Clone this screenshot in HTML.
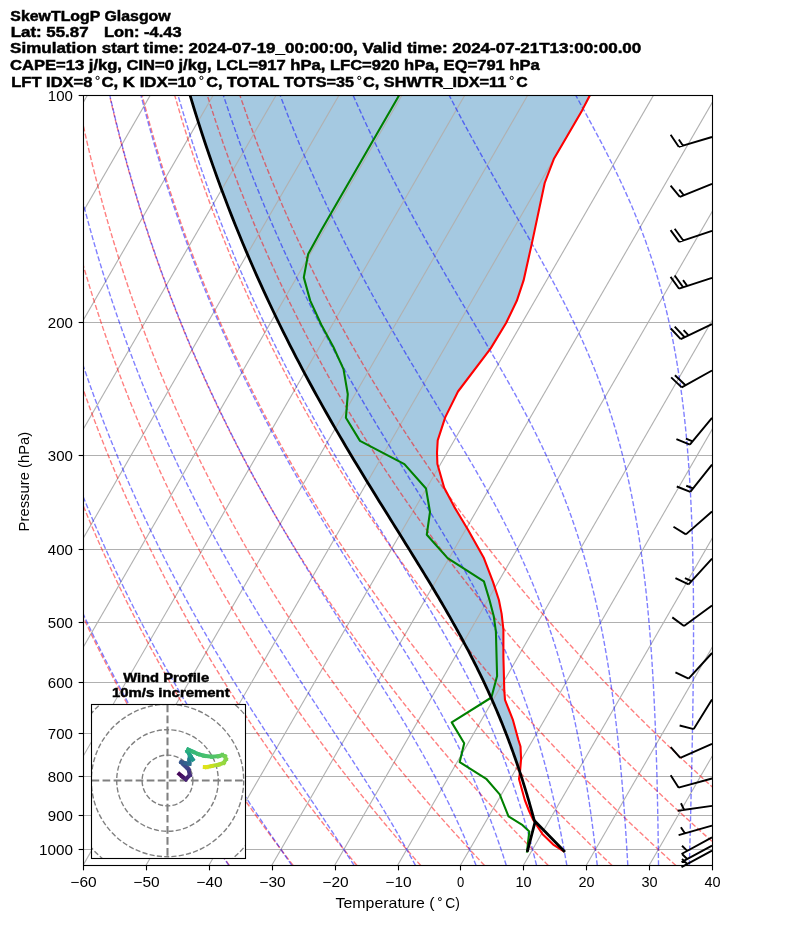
<!DOCTYPE html><html><head><meta charset="utf-8"><style>html,body{margin:0;padding:0;background:#fff;width:794px;height:937px;overflow:hidden}</style></head><body><svg width="794" height="937" viewBox="0 0 794 937" style="display:block;will-change:transform">
<defs><clipPath id="ax"><rect x="83.0" y="95.15" width="629.00" height="770.30"/></clipPath></defs>
<rect width="794" height="937" fill="#fff"/>
<g clip-path="url(#ax)">
<path d="M519.57,775.00 L520.00,772.00 L521.10,759.00 L520.50,746.50 L518.40,740.00 L513.00,720.20 L505.00,699.80 L504.30,690.70 L503.40,656.70 L503.40,629.50 L501.60,613.60 L498.90,600.00 L493.00,581.90 L483.90,558.10 L468.00,529.70 L454.40,507.10 L444.20,487.80 L437.40,464.00 L437.00,452.70 L437.70,440.40 L445.20,417.40 L458.00,391.50 L490.70,348.40 L506.10,323.00 L516.80,300.80 L523.60,280.40 L532.20,241.90 L544.70,183.00 L553.80,159.10 L582.10,110.40 L590.00,95.00 L596.00,84.00 L180.20,60.63 L190.02,95.15 L193.98,108.25 L197.92,120.85 L201.82,132.98 L205.70,144.68 L209.55,155.97 L213.36,166.89 L217.15,177.46 L220.90,187.69 L224.62,197.62 L228.31,207.25 L231.97,216.61 L235.60,225.71 L239.20,234.56 L242.77,243.18 L246.31,251.58 L249.82,259.77 L253.30,267.76 L256.75,275.56 L260.18,283.18 L263.57,290.62 L266.94,297.90 L270.28,305.02 L273.59,311.99 L276.88,318.81 L280.13,325.50 L283.37,332.05 L286.57,338.47 L289.76,344.77 L292.91,350.95 L296.04,357.02 L299.15,362.97 L302.23,368.82 L305.29,374.57 L308.32,380.22 L311.33,385.77 L314.31,391.23 L317.27,396.60 L320.21,401.88 L323.12,407.08 L326.01,412.20 L328.87,417.24 L331.71,422.20 L334.53,427.09 L337.33,431.91 L340.10,436.65 L342.85,441.33 L345.57,445.95 L348.27,450.50 L350.95,454.98 L353.61,459.41 L356.24,463.78 L358.84,468.09 L361.43,472.34 L363.99,476.54 L366.53,480.69 L369.04,484.78 L371.53,488.83 L373.99,492.82 L376.44,496.77 L378.85,500.67 L381.25,504.52 L383.62,508.33 L385.96,512.10 L388.29,515.82 L390.58,519.50 L392.86,523.14 L395.10,526.74 L397.33,530.30 L399.53,533.82 L401.70,537.31 L403.86,540.75 L405.98,544.17 L408.08,547.54 L410.16,550.89 L412.22,554.20 L414.24,557.47 L416.25,560.71 L418.23,563.93 L420.18,567.11 L422.12,570.26 L424.02,573.38 L425.91,576.47 L427.76,579.53 L429.60,582.56 L431.41,585.57 L433.20,588.54 L434.96,591.50 L436.70,594.42 L438.42,597.32 L440.12,600.19 L441.79,603.04 L443.44,605.86 L445.06,608.66 L446.67,611.44 L448.25,614.19 L449.81,616.92 L451.34,619.63 L452.86,622.32 L454.35,624.98 L455.83,627.62 L457.28,630.24 L458.71,632.84 L460.12,635.42 L461.51,637.98 L462.88,640.52 L464.23,643.04 L465.56,645.54 L466.88,648.02 L468.17,650.48 L469.44,652.93 L470.70,655.36 L471.94,657.76 L473.16,660.15 L474.36,662.53 L475.54,664.89 L476.71,667.23 L477.86,669.55 L478.99,671.86 L480.11,674.15 L481.21,676.42 L482.30,678.68 L483.37,680.92 L484.42,683.15 L485.46,685.37 L486.48,687.56 L487.49,689.75 L488.48,691.92 L489.46,694.07 L490.43,696.21 L491.38,698.34 L492.32,700.45 L493.24,702.55 L494.15,704.64 L495.05,706.71 L495.94,708.77 L496.81,710.82 L497.67,712.86 L498.52,714.88 L499.36,716.89 L500.19,718.89 L501.00,720.87 L501.80,722.84 L502.60,724.81 L503.38,726.76 L504.15,728.69 L504.91,730.62 L505.66,732.54 L506.40,734.44 L507.12,736.33 L507.84,738.22 L508.55,740.09 L509.25,741.95 L509.95,743.80 L510.63,745.64 L511.30,747.47 L511.96,749.29 L512.62,751.10 L513.27,752.90 L513.91,754.69 L514.54,756.47 L515.16,758.24 L515.77,760.00 L516.38,761.76 L516.98,763.50 L517.57,765.23 L518.15,766.96 L518.73,768.67 L519.30,770.38 L519.86,772.07 L520.42,773.76 L520.82,775.00 Z" fill="#1f77b4" fill-opacity="0.4" stroke="none"/>
<line x1="83.0" y1="95.50" x2="712.0" y2="95.50" stroke="#b0b0b0" stroke-width="1.11"/>
<line x1="83.0" y1="322.50" x2="712.0" y2="322.50" stroke="#b0b0b0" stroke-width="1.11"/>
<line x1="83.0" y1="455.50" x2="712.0" y2="455.50" stroke="#b0b0b0" stroke-width="1.11"/>
<line x1="83.0" y1="549.50" x2="712.0" y2="549.50" stroke="#b0b0b0" stroke-width="1.11"/>
<line x1="83.0" y1="622.50" x2="712.0" y2="622.50" stroke="#b0b0b0" stroke-width="1.11"/>
<line x1="83.0" y1="682.50" x2="712.0" y2="682.50" stroke="#b0b0b0" stroke-width="1.11"/>
<line x1="83.0" y1="733.50" x2="712.0" y2="733.50" stroke="#b0b0b0" stroke-width="1.11"/>
<line x1="83.0" y1="776.50" x2="712.0" y2="776.50" stroke="#b0b0b0" stroke-width="1.11"/>
<line x1="83.0" y1="815.50" x2="712.0" y2="815.50" stroke="#b0b0b0" stroke-width="1.11"/>
<line x1="83.0" y1="849.50" x2="712.0" y2="849.50" stroke="#b0b0b0" stroke-width="1.11"/>
<line x1="-483.10" y1="865.45" x2="-38.37" y2="95.15" stroke="#b0b0b0" stroke-width="1.11"/>
<line x1="-420.20" y1="865.45" x2="24.53" y2="95.15" stroke="#b0b0b0" stroke-width="1.11"/>
<line x1="-357.30" y1="865.45" x2="87.43" y2="95.15" stroke="#b0b0b0" stroke-width="1.11"/>
<line x1="-294.40" y1="865.45" x2="150.33" y2="95.15" stroke="#b0b0b0" stroke-width="1.11"/>
<line x1="-231.50" y1="865.45" x2="213.23" y2="95.15" stroke="#b0b0b0" stroke-width="1.11"/>
<line x1="-168.60" y1="865.45" x2="276.13" y2="95.15" stroke="#b0b0b0" stroke-width="1.11"/>
<line x1="-105.70" y1="865.45" x2="339.03" y2="95.15" stroke="#b0b0b0" stroke-width="1.11"/>
<line x1="-42.80" y1="865.45" x2="401.93" y2="95.15" stroke="#b0b0b0" stroke-width="1.11"/>
<line x1="20.10" y1="865.45" x2="464.83" y2="95.15" stroke="#b0b0b0" stroke-width="1.11"/>
<line x1="83.00" y1="865.45" x2="527.73" y2="95.15" stroke="#b0b0b0" stroke-width="1.11"/>
<line x1="145.90" y1="865.45" x2="590.63" y2="95.15" stroke="#b0b0b0" stroke-width="1.11"/>
<line x1="208.80" y1="865.45" x2="653.53" y2="95.15" stroke="#b0b0b0" stroke-width="1.11"/>
<line x1="271.70" y1="865.45" x2="716.43" y2="95.15" stroke="#b0b0b0" stroke-width="1.11"/>
<line x1="334.60" y1="865.45" x2="779.33" y2="95.15" stroke="#b0b0b0" stroke-width="1.11"/>
<line x1="397.50" y1="865.45" x2="842.23" y2="95.15" stroke="#b0b0b0" stroke-width="1.11"/>
<line x1="460.40" y1="865.45" x2="905.13" y2="95.15" stroke="#b0b0b0" stroke-width="1.11"/>
<line x1="523.30" y1="865.45" x2="968.03" y2="95.15" stroke="#b0b0b0" stroke-width="1.11"/>
<line x1="586.20" y1="865.45" x2="1030.93" y2="95.15" stroke="#b0b0b0" stroke-width="1.11"/>
<line x1="649.10" y1="865.45" x2="1093.83" y2="95.15" stroke="#b0b0b0" stroke-width="1.11"/>
<line x1="712.00" y1="865.45" x2="1156.73" y2="95.15" stroke="#b0b0b0" stroke-width="1.11"/>
<path d="M229.39,865.45 L227.59,862.95 L225.79,860.43 L223.98,857.89 L222.16,855.33 L220.34,852.75 L218.51,850.15 L216.67,847.53 L214.83,844.89 L212.98,842.23 L211.12,839.55 L209.26,836.84 L207.38,834.11 L205.50,831.36 L203.61,828.58 L201.72,825.78 L199.82,822.96 L197.91,820.11 L195.99,817.24 L194.06,814.34 L192.13,811.41 L190.18,808.46 L188.23,805.49 L186.27,802.48 L184.31,799.45 L182.33,796.39 L180.35,793.30 L178.35,790.18 L176.35,787.03 L174.34,783.85 L172.32,780.64 L170.30,777.40 L168.26,774.12 L166.21,770.81 L164.16,767.47 L162.09,764.09 L160.02,760.68 L157.93,757.24 L155.84,753.75 L153.73,750.23 L151.62,746.67 L149.50,743.07 L147.36,739.43 L145.22,735.75 L143.06,732.03 L140.90,728.27 L138.72,724.46 L136.53,720.61 L134.34,716.71 L132.13,712.76 L129.91,708.77 L127.67,704.72 L125.43,700.63 L123.18,696.49 L120.91,692.29 L118.63,688.03 L116.34,683.72 L114.04,679.36 L111.72,674.93 L109.39,670.45 L107.05,665.90 L104.70,661.29 L102.33,656.61 L99.95,651.86 L97.56,647.05 L95.15,642.16 L92.73,637.20 L90.30,632.16 L87.85,627.04 L85.39,621.84 L82.91,616.56 L80.42,611.19 L77.91,605.74 L75.39,600.19 L72.86,594.54 L70.30,588.80 L67.74,582.95 L65.15,576.99 L62.56,570.93 L59.94,564.75 L57.31,558.46 L54.67,552.04 L52.00,545.49 L49.32,538.80 L46.63,531.98 L43.91,525.02 L41.19,517.90 L38.44,510.62 L35.68,503.18 L32.90,495.57 L30.10,487.77 L27.28,479.79 L24.45,471.60 L21.61,463.21 L18.74,454.59 L15.86,445.74 L12.96,436.65 L10.05,427.30 L7.13,417.67 L4.18,407.75 L1.23,397.52 L-1.74,386.96 L-4.72,376.05 L-7.71,364.76 L-10.71,353.07 L-13.71,340.95 L-16.72,328.36 L-19.73,315.27 L-22.74,301.63 L-25.74,287.40 L-28.73,272.52 L-31.70,256.94 L-34.65,240.58 L-37.56,223.36 L-40.43,205.18 L-43.23,185.93 L-45.96,165.49 L-48.58,143.68 L-51.08,120.31 L-53.40,95.15 M293.17,865.45 L291.23,862.95 L289.29,860.43 L287.34,857.89 L285.39,855.33 L283.42,852.75 L281.45,850.15 L279.47,847.53 L277.48,844.89 L275.48,842.23 L273.48,839.55 L271.47,836.84 L269.45,834.11 L267.42,831.36 L265.38,828.58 L263.33,825.78 L261.28,822.96 L259.22,820.11 L257.14,817.24 L255.06,814.34 L252.97,811.41 L250.87,808.46 L248.77,805.49 L246.65,802.48 L244.52,799.45 L242.39,796.39 L240.24,793.30 L238.08,790.18 L235.92,787.03 L233.74,783.85 L231.56,780.64 L229.36,777.40 L227.16,774.12 L224.94,770.81 L222.71,767.47 L220.48,764.09 L218.23,760.68 L215.97,757.24 L213.70,753.75 L211.42,750.23 L209.13,746.67 L206.82,743.07 L204.51,739.43 L202.18,735.75 L199.84,732.03 L197.49,728.27 L195.12,724.46 L192.75,720.61 L190.36,716.71 L187.96,712.76 L185.54,708.77 L183.11,704.72 L180.67,700.63 L178.22,696.49 L175.75,692.29 L173.27,688.03 L170.77,683.72 L168.26,679.36 L165.74,674.93 L163.20,670.45 L160.65,665.90 L158.08,661.29 L155.49,656.61 L152.90,651.86 L150.28,647.05 L147.65,642.16 L145.00,637.20 L142.34,632.16 L139.66,627.04 L136.96,621.84 L134.25,616.56 L131.52,611.19 L128.77,605.74 L126.00,600.19 L123.22,594.54 L120.41,588.80 L117.59,582.95 L114.75,576.99 L111.89,570.93 L109.01,564.75 L106.11,558.46 L103.19,552.04 L100.25,545.49 L97.29,538.80 L94.31,531.98 L91.31,525.02 L88.29,517.90 L85.25,510.62 L82.18,503.18 L79.09,495.57 L75.98,487.77 L72.85,479.79 L69.69,471.60 L66.52,463.21 L63.32,454.59 L60.09,445.74 L56.85,436.65 L53.58,427.30 L50.29,417.67 L46.97,407.75 L43.64,397.52 L40.28,386.96 L36.90,376.05 L33.51,364.76 L30.09,353.07 L26.66,340.95 L23.21,328.36 L19.74,315.27 L16.27,301.63 L12.79,287.40 L9.30,272.52 L5.81,256.94 L2.34,240.58 L-1.13,223.36 L-4.57,205.18 L-7.97,185.93 L-11.32,165.49 L-14.60,143.68 L-17.78,120.31 L-20.82,95.15 M356.95,865.45 L354.88,862.95 L352.80,860.43 L350.71,857.89 L348.61,855.33 L346.50,852.75 L344.39,850.15 L342.26,847.53 L340.13,844.89 L337.99,842.23 L335.84,839.55 L333.68,836.84 L331.51,834.11 L329.33,831.36 L327.14,828.58 L324.95,825.78 L322.74,822.96 L320.53,820.11 L318.30,817.24 L316.07,814.34 L313.82,811.41 L311.56,808.46 L309.30,805.49 L307.02,802.48 L304.74,799.45 L302.44,796.39 L300.13,793.30 L297.81,790.18 L295.49,787.03 L293.15,783.85 L290.79,780.64 L288.43,777.40 L286.06,774.12 L283.67,770.81 L281.27,767.47 L278.86,764.09 L276.44,760.68 L274.01,757.24 L271.56,753.75 L269.10,750.23 L266.63,746.67 L264.15,743.07 L261.65,739.43 L259.14,735.75 L256.62,732.03 L254.08,728.27 L251.53,724.46 L248.96,720.61 L246.38,716.71 L243.79,712.76 L241.18,708.77 L238.55,704.72 L235.92,700.63 L233.26,696.49 L230.59,692.29 L227.91,688.03 L225.21,683.72 L222.49,679.36 L219.76,674.93 L217.01,670.45 L214.24,665.90 L211.46,661.29 L208.66,656.61 L205.84,651.86 L203.00,647.05 L200.15,642.16 L197.27,637.20 L194.38,632.16 L191.47,627.04 L188.54,621.84 L185.59,616.56 L182.61,611.19 L179.62,605.74 L176.61,600.19 L173.58,594.54 L170.52,588.80 L167.45,582.95 L164.35,576.99 L161.23,570.93 L158.08,564.75 L154.91,558.46 L151.72,552.04 L148.51,545.49 L145.27,538.80 L142.00,531.98 L138.71,525.02 L135.39,517.90 L132.05,510.62 L128.68,503.18 L125.29,495.57 L121.86,487.77 L118.41,479.79 L114.93,471.60 L111.43,463.21 L107.89,454.59 L104.32,445.74 L100.73,436.65 L97.10,427.30 L93.45,417.67 L89.76,407.75 L86.05,397.52 L82.30,386.96 L78.53,376.05 L74.72,364.76 L70.89,353.07 L67.02,340.95 L63.13,328.36 L59.22,315.27 L55.28,301.63 L51.31,287.40 L47.33,272.52 L43.33,256.94 L39.32,240.58 L35.31,223.36 L31.29,205.18 L27.30,185.93 L23.32,165.49 L19.39,143.68 L15.53,120.31 L11.75,95.15 M420.74,865.45 L418.52,862.95 L416.30,860.43 L414.07,857.89 L411.83,855.33 L409.58,852.75 L407.32,850.15 L405.06,847.53 L402.78,844.89 L400.49,842.23 L398.20,839.55 L395.89,836.84 L393.57,834.11 L391.25,831.36 L388.91,828.58 L386.56,825.78 L384.20,822.96 L381.84,820.11 L379.46,817.24 L377.07,814.34 L374.67,811.41 L372.26,808.46 L369.83,805.49 L367.40,802.48 L364.95,799.45 L362.50,796.39 L360.03,793.30 L357.55,790.18 L355.05,787.03 L352.55,783.85 L350.03,780.64 L347.50,777.40 L344.96,774.12 L342.40,770.81 L339.83,767.47 L337.25,764.09 L334.66,760.68 L332.05,757.24 L329.42,753.75 L326.79,750.23 L324.14,746.67 L321.47,743.07 L318.79,739.43 L316.10,735.75 L313.39,732.03 L310.67,728.27 L307.93,724.46 L305.17,720.61 L302.40,716.71 L299.62,712.76 L296.81,708.77 L294.00,704.72 L291.16,700.63 L288.31,696.49 L285.44,692.29 L282.55,688.03 L279.64,683.72 L276.72,679.36 L273.78,674.93 L270.82,670.45 L267.84,665.90 L264.84,661.29 L261.82,656.61 L258.78,651.86 L255.72,647.05 L252.64,642.16 L249.54,637.20 L246.42,632.16 L243.28,627.04 L240.11,621.84 L236.92,616.56 L233.71,611.19 L230.48,605.74 L227.22,600.19 L223.94,594.54 L220.63,588.80 L217.30,582.95 L213.94,576.99 L210.56,570.93 L207.15,564.75 L203.71,558.46 L200.25,552.04 L196.76,545.49 L193.24,538.80 L189.69,531.98 L186.11,525.02 L182.50,517.90 L178.86,510.62 L175.19,503.18 L171.48,495.57 L167.75,487.77 L163.98,479.79 L160.17,471.60 L156.34,463.21 L152.46,454.59 L148.56,445.74 L144.61,436.65 L140.63,427.30 L136.61,417.67 L132.55,407.75 L128.46,397.52 L124.32,386.96 L120.15,376.05 L115.94,364.76 L111.68,353.07 L107.39,340.95 L103.06,328.36 L98.69,315.27 L94.28,301.63 L89.84,287.40 L85.36,272.52 L80.85,256.94 L76.31,240.58 L71.74,223.36 L67.15,205.18 L62.56,185.93 L57.96,165.49 L53.38,143.68 L48.83,120.31 L44.33,95.15 M484.52,865.45 L482.17,862.95 L479.81,860.43 L477.43,857.89 L475.05,855.33 L472.66,852.75 L470.26,850.15 L467.85,847.53 L465.43,844.89 L463.00,842.23 L460.55,839.55 L458.10,836.84 L455.64,834.11 L453.16,831.36 L450.67,828.58 L448.18,825.78 L445.67,822.96 L443.15,820.11 L440.61,817.24 L438.07,814.34 L435.51,811.41 L432.95,808.46 L430.37,805.49 L427.77,802.48 L425.17,799.45 L422.55,796.39 L419.92,793.30 L417.28,790.18 L414.62,787.03 L411.95,783.85 L409.26,780.64 L406.57,777.40 L403.86,774.12 L401.13,770.81 L398.39,767.47 L395.64,764.09 L392.87,760.68 L390.09,757.24 L387.29,753.75 L384.47,750.23 L381.64,746.67 L378.80,743.07 L375.94,739.43 L373.06,735.75 L370.17,732.03 L367.26,728.27 L364.33,724.46 L361.39,720.61 L358.43,716.71 L355.45,712.76 L352.45,708.77 L349.44,704.72 L346.40,700.63 L343.35,696.49 L340.28,692.29 L337.19,688.03 L334.08,683.72 L330.95,679.36 L327.80,674.93 L324.62,670.45 L321.43,665.90 L318.22,661.29 L314.98,656.61 L311.72,651.86 L308.44,647.05 L305.14,642.16 L301.81,637.20 L298.46,632.16 L295.08,627.04 L291.68,621.84 L288.26,616.56 L284.81,611.19 L281.33,605.74 L277.83,600.19 L274.30,594.54 L270.74,588.80 L267.15,582.95 L263.54,576.99 L259.89,570.93 L256.22,564.75 L252.51,558.46 L248.78,552.04 L245.01,545.49 L241.21,538.80 L237.37,531.98 L233.51,525.02 L229.60,517.90 L225.66,510.62 L221.69,503.18 L217.68,495.57 L213.63,487.77 L209.54,479.79 L205.41,471.60 L201.25,463.21 L197.04,454.59 L192.79,445.74 L188.49,436.65 L184.15,427.30 L179.77,417.67 L175.34,407.75 L170.87,397.52 L166.34,386.96 L161.77,376.05 L157.15,364.76 L152.48,353.07 L147.76,340.95 L142.99,328.36 L138.17,315.27 L133.29,301.63 L128.37,287.40 L123.39,272.52 L118.36,256.94 L113.29,240.58 L108.17,223.36 L103.01,205.18 L97.82,185.93 L92.60,165.49 L87.37,143.68 L82.13,120.31 L76.91,95.15 M548.30,865.45 L545.81,862.95 L543.31,860.43 L540.80,857.89 L538.28,855.33 L535.74,852.75 L533.20,850.15 L530.64,847.53 L528.08,844.89 L525.50,842.23 L522.91,839.55 L520.31,836.84 L517.70,834.11 L515.07,831.36 L512.44,828.58 L509.79,825.78 L507.13,822.96 L504.46,820.11 L501.77,817.24 L499.07,814.34 L496.36,811.41 L493.64,808.46 L490.90,805.49 L488.15,802.48 L485.38,799.45 L482.60,796.39 L479.81,793.30 L477.01,790.18 L474.18,787.03 L471.35,783.85 L468.50,780.64 L465.64,777.40 L462.76,774.12 L459.86,770.81 L456.95,767.47 L454.02,764.09 L451.08,760.68 L448.12,757.24 L445.15,753.75 L442.16,750.23 L439.15,746.67 L436.13,743.07 L433.08,739.43 L430.02,735.75 L426.95,732.03 L423.85,728.27 L420.73,724.46 L417.60,720.61 L414.45,716.71 L411.28,712.76 L408.09,708.77 L404.88,704.72 L401.64,700.63 L398.39,696.49 L395.12,692.29 L391.83,688.03 L388.51,683.72 L385.17,679.36 L381.81,674.93 L378.43,670.45 L375.03,665.90 L371.60,661.29 L368.14,656.61 L364.66,651.86 L361.16,647.05 L357.63,642.16 L354.08,637.20 L350.50,632.16 L346.89,627.04 L343.26,621.84 L339.60,616.56 L335.91,611.19 L332.19,605.74 L328.44,600.19 L324.66,594.54 L320.85,588.80 L317.01,582.95 L313.13,576.99 L309.23,570.93 L305.29,564.75 L301.31,558.46 L297.31,552.04 L293.26,545.49 L289.18,538.80 L285.06,531.98 L280.90,525.02 L276.71,517.90 L272.47,510.62 L268.19,503.18 L263.88,495.57 L259.51,487.77 L255.11,479.79 L250.66,471.60 L246.16,463.21 L241.61,454.59 L237.02,445.74 L232.37,436.65 L227.68,427.30 L222.93,417.67 L218.13,407.75 L213.28,397.52 L208.37,386.96 L203.40,376.05 L198.37,364.76 L193.28,353.07 L188.13,340.95 L182.92,328.36 L177.64,315.27 L172.30,301.63 L166.89,287.40 L161.42,272.52 L155.88,256.94 L150.28,240.58 L144.61,223.36 L138.88,205.18 L133.09,185.93 L127.24,165.49 L121.35,143.68 L115.43,120.31 L109.49,95.15 M612.08,865.45 L609.45,862.95 L606.81,860.43 L604.16,857.89 L601.50,855.33 L598.82,852.75 L596.14,850.15 L593.44,847.53 L590.73,844.89 L588.00,842.23 L585.27,839.55 L582.52,836.84 L579.76,834.11 L576.99,831.36 L574.20,828.58 L571.40,825.78 L568.59,822.96 L565.77,820.11 L562.93,817.24 L560.07,814.34 L557.21,811.41 L554.33,808.46 L551.43,805.49 L548.52,802.48 L545.60,799.45 L542.66,796.39 L539.70,793.30 L536.74,790.18 L533.75,787.03 L530.75,783.85 L527.74,780.64 L524.70,777.40 L521.66,774.12 L518.59,770.81 L515.51,767.47 L512.41,764.09 L509.30,760.68 L506.16,757.24 L503.01,753.75 L499.84,750.23 L496.66,746.67 L493.45,743.07 L490.23,739.43 L486.98,735.75 L483.72,732.03 L480.44,728.27 L477.14,724.46 L473.82,720.61 L470.47,716.71 L467.11,712.76 L463.72,708.77 L460.32,704.72 L456.89,700.63 L453.44,696.49 L449.96,692.29 L446.47,688.03 L442.95,683.72 L439.40,679.36 L435.83,674.93 L432.24,670.45 L428.62,665.90 L424.98,661.29 L421.30,656.61 L417.61,651.86 L413.88,647.05 L410.13,642.16 L406.35,637.20 L402.54,632.16 L398.70,627.04 L394.83,621.84 L390.93,616.56 L387.00,611.19 L383.04,605.74 L379.05,600.19 L375.02,594.54 L370.96,588.80 L366.86,582.95 L362.73,576.99 L358.56,570.93 L354.36,564.75 L350.11,558.46 L345.83,552.04 L341.51,545.49 L337.15,538.80 L332.75,531.98 L328.30,525.02 L323.81,517.90 L319.28,510.62 L314.70,503.18 L310.07,495.57 L305.40,487.77 L300.67,479.79 L295.90,471.60 L291.07,463.21 L286.19,454.59 L281.25,445.74 L276.26,436.65 L271.21,427.30 L266.09,417.67 L260.92,407.75 L255.69,397.52 L250.39,386.96 L245.02,376.05 L239.58,364.76 L234.08,353.07 L228.50,340.95 L222.84,328.36 L217.11,315.27 L211.31,301.63 L205.42,287.40 L199.45,272.52 L193.40,256.94 L187.26,240.58 L181.04,223.36 L174.74,205.18 L168.35,185.93 L161.88,165.49 L155.34,143.68 L148.73,120.31 L142.07,95.15 M675.87,865.45 L673.10,862.95 L670.32,860.43 L667.53,857.89 L664.72,855.33 L661.90,852.75 L659.07,850.15 L656.23,847.53 L653.38,844.89 L650.51,842.23 L647.63,839.55 L644.73,836.84 L641.82,834.11 L638.90,831.36 L635.97,828.58 L633.02,825.78 L630.05,822.96 L627.08,820.11 L624.08,817.24 L621.08,814.34 L618.05,811.41 L615.02,808.46 L611.96,805.49 L608.90,802.48 L605.81,799.45 L602.71,796.39 L599.60,793.30 L596.47,790.18 L593.32,787.03 L590.15,783.85 L586.97,780.64 L583.77,777.40 L580.55,774.12 L577.32,770.81 L574.07,767.47 L570.80,764.09 L567.51,760.68 L564.20,757.24 L560.87,753.75 L557.53,750.23 L554.16,746.67 L550.78,743.07 L547.37,739.43 L543.95,735.75 L540.50,732.03 L537.03,728.27 L533.54,724.46 L530.03,720.61 L526.50,716.71 L522.94,712.76 L519.36,708.77 L515.76,704.72 L512.13,700.63 L508.48,696.49 L504.80,692.29 L501.10,688.03 L497.38,683.72 L493.63,679.36 L489.85,674.93 L486.05,670.45 L482.21,665.90 L478.35,661.29 L474.47,656.61 L470.55,651.86 L466.60,647.05 L462.63,642.16 L458.62,637.20 L454.58,632.16 L450.51,627.04 L446.41,621.84 L442.27,616.56 L438.10,611.19 L433.90,605.74 L429.66,600.19 L425.38,594.54 L421.07,588.80 L416.72,582.95 L412.33,576.99 L407.90,570.93 L403.43,564.75 L398.92,558.46 L394.36,552.04 L389.76,545.49 L385.12,538.80 L380.43,531.98 L375.70,525.02 L370.92,517.90 L366.08,510.62 L361.20,503.18 L356.27,495.57 L351.28,487.77 L346.24,479.79 L341.14,471.60 L335.98,463.21 L330.76,454.59 L325.48,445.74 L320.14,436.65 L314.73,427.30 L309.26,417.67 L303.71,407.75 L298.10,397.52 L292.41,386.96 L286.64,376.05 L280.80,364.76 L274.87,353.07 L268.86,340.95 L262.77,328.36 L256.59,315.27 L250.31,301.63 L243.94,287.40 L237.48,272.52 L230.91,256.94 L224.24,240.58 L217.47,223.36 L210.60,205.18 L203.61,185.93 L196.52,165.49 L189.33,143.68 L182.03,120.31 L174.65,95.15 M739.65,865.45 L736.74,862.95 L733.82,860.43 L730.89,857.89 L727.94,855.33 L724.99,852.75 L722.01,850.15 L719.03,847.53 L716.03,844.89 L713.01,842.23 L709.99,839.55 L706.94,836.84 L703.89,834.11 L700.82,831.36 L697.73,828.58 L694.63,825.78 L691.52,822.96 L688.39,820.11 L685.24,817.24 L682.08,814.34 L678.90,811.41 L675.71,808.46 L672.50,805.49 L669.27,802.48 L666.03,799.45 L662.77,796.39 L659.49,793.30 L656.20,790.18 L652.88,787.03 L649.55,783.85 L646.21,780.64 L642.84,777.40 L639.45,774.12 L636.05,770.81 L632.63,767.47 L629.18,764.09 L625.72,760.68 L622.24,757.24 L618.74,753.75 L615.21,750.23 L611.67,746.67 L608.10,743.07 L604.52,739.43 L600.91,735.75 L597.27,732.03 L593.62,728.27 L589.94,724.46 L586.24,720.61 L582.52,716.71 L578.77,712.76 L575.00,708.77 L571.20,704.72 L567.37,700.63 L563.52,696.49 L559.65,692.29 L555.74,688.03 L551.81,683.72 L547.86,679.36 L543.87,674.93 L539.85,670.45 L535.81,665.90 L531.73,661.29 L527.63,656.61 L523.49,651.86 L519.32,647.05 L515.12,642.16 L510.89,637.20 L506.62,632.16 L502.32,627.04 L497.98,621.84 L493.61,616.56 L489.20,611.19 L484.75,605.74 L480.27,600.19 L475.74,594.54 L471.18,588.80 L466.57,582.95 L461.92,576.99 L457.23,570.93 L452.50,564.75 L447.72,558.46 L442.89,552.04 L438.02,545.49 L433.09,538.80 L428.12,531.98 L423.10,525.02 L418.02,517.90 L412.89,510.62 L407.71,503.18 L402.46,495.57 L397.16,487.77 L391.80,479.79 L386.38,471.60 L380.89,463.21 L375.33,454.59 L369.71,445.74 L364.02,436.65 L358.26,427.30 L352.42,417.67 L346.50,407.75 L340.51,397.52 L334.43,386.96 L328.26,376.05 L322.01,364.76 L315.67,353.07 L309.23,340.95 L302.70,328.36 L296.06,315.27 L289.32,301.63 L282.47,287.40 L275.51,272.52 L268.43,256.94 L261.23,240.58 L253.91,223.36 L246.46,205.18 L238.88,185.93 L231.16,165.49 L223.32,143.68 L215.34,120.31 L207.23,95.15 M803.43,865.45 L800.39,862.95 L797.33,860.43 L794.25,857.89 L791.17,855.33 L788.07,852.75 L784.95,850.15 L781.82,847.53 L778.68,844.89 L775.52,842.23 L772.34,839.55 L769.15,836.84 L765.95,834.11 L762.73,831.36 L759.50,828.58 L756.25,825.78 L752.98,822.96 L749.70,820.11 L746.40,817.24 L743.08,814.34 L739.75,811.41 L736.40,808.46 L733.03,805.49 L729.65,802.48 L726.24,799.45 L722.82,796.39 L719.38,793.30 L715.93,790.18 L712.45,787.03 L708.96,783.85 L705.44,780.64 L701.91,777.40 L698.35,774.12 L694.78,770.81 L691.19,767.47 L687.57,764.09 L683.94,760.68 L680.28,757.24 L676.60,753.75 L672.90,750.23 L669.18,746.67 L665.43,743.07 L661.66,739.43 L657.87,735.75 L654.05,732.03 L650.21,728.27 L646.35,724.46 L642.46,720.61 L638.54,716.71 L634.60,712.76 L630.63,708.77 L626.64,704.72 L622.62,700.63 L618.57,696.49 L614.49,692.29 L610.38,688.03 L606.25,683.72 L602.08,679.36 L597.89,674.93 L593.66,670.45 L589.40,665.90 L585.11,661.29 L580.79,656.61 L576.43,651.86 L572.04,647.05 L567.62,642.16 L563.16,637.20 L558.66,632.16 L554.13,627.04 L549.56,621.84 L544.95,616.56 L540.30,611.19 L535.61,605.74 L530.88,600.19 L526.10,594.54 L521.28,588.80 L516.42,582.95 L511.52,576.99 L506.57,570.93 L501.56,564.75 L496.52,558.46 L491.42,552.04 L486.27,545.49 L481.06,538.80 L475.81,531.98 L470.49,525.02 L465.13,517.90 L459.70,510.62 L454.21,503.18 L448.66,495.57 L443.04,487.77 L437.36,479.79 L431.62,471.60 L425.80,463.21 L419.91,454.59 L413.94,445.74 L407.90,436.65 L401.78,427.30 L395.58,417.67 L389.29,407.75 L382.92,397.52 L376.45,386.96 L369.89,376.05 L363.23,364.76 L356.47,353.07 L349.60,340.95 L342.62,328.36 L335.54,315.27 L328.33,301.63 L321.00,287.40 L313.54,272.52 L305.94,256.94 L298.21,240.58 L290.34,223.36 L282.32,205.18 L274.14,185.93 L265.80,165.49 L257.30,143.68 L248.64,120.31 L239.81,95.15" fill="none" stroke="#ff0000" stroke-opacity="0.5" stroke-width="1.39" stroke-dasharray="5.14 2.22"/>
<path d="M228.82,865.45 L227.12,862.95 L225.42,860.43 L223.70,857.89 L221.97,855.33 L220.24,852.75 L218.49,850.15 L216.73,847.53 L214.97,844.89 L213.19,842.23 L211.40,839.55 L209.61,836.84 L207.80,834.11 L205.98,831.36 L204.16,828.58 L202.32,825.78 L200.47,822.96 L198.62,820.11 L196.75,817.24 L194.87,814.34 L192.98,811.41 L191.08,808.46 L189.18,805.49 L187.26,802.48 L185.33,799.45 L183.39,796.39 L181.44,793.30 L179.48,790.18 L177.51,787.03 L175.53,783.85 L173.54,780.64 L171.54,777.40 L169.52,774.12 L167.50,770.81 L165.47,767.47 L163.42,764.09 L161.37,760.68 L159.30,757.24 L157.22,753.75 L155.13,750.23 L153.03,746.67 L150.92,743.07 L148.80,739.43 L146.66,735.75 L144.52,732.03 L142.36,728.27 L140.19,724.46 L138.01,720.61 L135.82,716.71 L133.62,712.76 L131.40,708.77 L129.17,704.72 L126.93,700.63 L124.68,696.49 L122.41,692.29 L120.14,688.03 L117.85,683.72 L115.54,679.36 L113.23,674.93 L110.90,670.45 L108.56,665.90 L106.20,661.29 L103.83,656.61 L101.45,651.86 L99.05,647.05 L96.64,642.16 L94.22,637.20 L91.78,632.16 L89.33,627.04 L86.86,621.84 L84.38,616.56 L81.88,611.19 L79.37,605.74 L76.84,600.19 L74.30,594.54 L71.74,588.80 L69.17,582.95 L66.58,576.99 L63.97,570.93 L61.35,564.75 L58.72,558.46 L56.06,552.04 L53.39,545.49 L50.70,538.80 L48.00,531.98 L45.28,525.02 L42.54,517.90 L39.79,510.62 L37.02,503.18 L34.23,495.57 L31.42,487.77 L28.60,479.79 L25.76,471.60 L22.90,463.21 L20.03,454.59 L17.14,445.74 L14.23,436.65 L11.31,427.30 L8.37,417.67 L5.42,407.75 L2.45,397.52 L-0.53,386.96 L-3.52,376.05 L-6.52,364.76 L-9.53,353.07 L-12.55,340.95 L-15.57,328.36 L-18.59,315.27 L-21.61,301.63 L-24.63,287.40 L-27.63,272.52 L-30.62,256.94 L-33.58,240.58 L-36.51,223.36 L-39.39,205.18 L-42.21,185.93 L-44.96,165.49 L-47.60,143.68 L-50.12,120.31 L-52.46,95.15 M291.80,865.45 L290.10,862.95 L288.39,860.43 L286.66,857.89 L284.92,855.33 L283.17,852.75 L281.40,850.15 L279.61,847.53 L277.82,844.89 L276.00,842.23 L274.18,839.55 L272.34,836.84 L270.49,834.11 L268.62,831.36 L266.74,828.58 L264.84,825.78 L262.94,822.96 L261.01,820.11 L259.07,817.24 L257.12,814.34 L255.16,811.41 L253.18,808.46 L251.18,805.49 L249.18,802.48 L247.16,799.45 L245.12,796.39 L243.07,793.30 L241.00,790.18 L238.93,787.03 L236.83,783.85 L234.73,780.64 L232.61,777.40 L230.47,774.12 L228.32,770.81 L226.16,767.47 L223.98,764.09 L221.79,760.68 L219.58,757.24 L217.36,753.75 L215.12,750.23 L212.87,746.67 L210.61,743.07 L208.33,739.43 L206.04,735.75 L203.73,732.03 L201.40,728.27 L199.07,724.46 L196.71,720.61 L194.34,716.71 L191.96,712.76 L189.56,708.77 L187.15,704.72 L184.72,700.63 L182.28,696.49 L179.82,692.29 L177.34,688.03 L174.85,683.72 L172.35,679.36 L169.82,674.93 L167.28,670.45 L164.73,665.90 L162.16,661.29 L159.57,656.61 L156.97,651.86 L154.34,647.05 L151.71,642.16 L149.05,637.20 L146.38,632.16 L143.69,627.04 L140.98,621.84 L138.25,616.56 L135.51,611.19 L132.74,605.74 L129.96,600.19 L127.16,594.54 L124.34,588.80 L121.51,582.95 L118.65,576.99 L115.77,570.93 L112.87,564.75 L109.95,558.46 L107.01,552.04 L104.06,545.49 L101.08,538.80 L98.07,531.98 L95.05,525.02 L92.00,517.90 L88.94,510.62 L85.85,503.18 L82.74,495.57 L79.60,487.77 L76.45,479.79 L73.26,471.60 L70.06,463.21 L66.83,454.59 L63.58,445.74 L60.31,436.65 L57.01,427.30 L53.69,417.67 L50.35,407.75 L46.99,397.52 L43.60,386.96 L40.19,376.05 L36.76,364.76 L33.31,353.07 L29.84,340.95 L26.36,328.36 L22.86,315.27 L19.35,301.63 L15.83,287.40 L12.30,272.52 L8.78,256.94 L5.26,240.58 L1.75,223.36 L-1.73,205.18 L-5.18,185.93 L-8.58,165.49 L-11.91,143.68 L-15.15,120.31 L-18.25,95.15 M354.07,865.45 L352.48,862.95 L350.87,860.43 L349.25,857.89 L347.61,855.33 L345.95,852.75 L344.27,850.15 L342.58,847.53 L340.86,844.89 L339.13,842.23 L337.37,839.55 L335.60,836.84 L333.81,834.11 L332.00,831.36 L330.17,828.58 L328.32,825.78 L326.45,822.96 L324.56,820.11 L322.65,817.24 L320.73,814.34 L318.78,811.41 L316.81,808.46 L314.82,805.49 L312.82,802.48 L310.79,799.45 L308.74,796.39 L306.67,793.30 L304.59,790.18 L302.48,787.03 L300.35,783.85 L298.20,780.64 L296.03,777.40 L293.85,774.12 L291.64,770.81 L289.41,767.47 L287.16,764.09 L284.89,760.68 L282.60,757.24 L280.29,753.75 L277.96,750.23 L275.61,746.67 L273.24,743.07 L270.85,739.43 L268.44,735.75 L266.01,732.03 L263.56,728.27 L261.09,724.46 L258.59,720.61 L256.08,716.71 L253.55,712.76 L251.00,708.77 L248.42,704.72 L245.83,700.63 L243.22,696.49 L240.58,692.29 L237.93,688.03 L235.25,683.72 L232.55,679.36 L229.84,674.93 L227.10,670.45 L224.34,665.90 L221.56,661.29 L218.76,656.61 L215.93,651.86 L213.09,647.05 L210.23,642.16 L207.34,637.20 L204.43,632.16 L201.50,627.04 L198.54,621.84 L195.57,616.56 L192.57,611.19 L189.55,605.74 L186.51,600.19 L183.44,594.54 L180.35,588.80 L177.23,582.95 L174.09,576.99 L170.93,570.93 L167.74,564.75 L164.53,558.46 L161.29,552.04 L158.03,545.49 L154.74,538.80 L151.42,531.98 L148.08,525.02 L144.71,517.90 L141.31,510.62 L137.88,503.18 L134.43,495.57 L130.94,487.77 L127.43,479.79 L123.89,471.60 L120.32,463.21 L116.71,454.59 L113.08,445.74 L109.42,436.65 L105.72,427.30 L102.00,417.67 L98.24,407.75 L94.45,397.52 L90.62,386.96 L86.77,376.05 L82.88,364.76 L78.97,353.07 L75.02,340.95 L71.04,328.36 L67.04,315.27 L63.00,301.63 L58.94,287.40 L54.86,272.52 L50.76,256.94 L46.65,240.58 L42.52,223.36 L38.40,205.18 L34.28,185.93 L30.18,165.49 L26.12,143.68 L22.12,120.31 L18.21,95.15 M415.44,865.45 L414.10,862.95 L412.74,860.43 L411.37,857.89 L409.97,855.33 L408.55,852.75 L407.11,850.15 L405.65,847.53 L404.17,844.89 L402.66,842.23 L401.14,839.55 L399.59,836.84 L398.01,834.11 L396.42,831.36 L394.80,828.58 L393.15,825.78 L391.49,822.96 L389.80,820.11 L388.08,817.24 L386.34,814.34 L384.57,811.41 L382.78,808.46 L380.96,805.49 L379.11,802.48 L377.24,799.45 L375.34,796.39 L373.42,793.30 L371.46,790.18 L369.48,787.03 L367.47,783.85 L365.44,780.64 L363.37,777.40 L361.28,774.12 L359.16,770.81 L357.01,767.47 L354.83,764.09 L352.63,760.68 L350.39,757.24 L348.12,753.75 L345.83,750.23 L343.50,746.67 L341.15,743.07 L338.77,739.43 L336.35,735.75 L333.91,732.03 L331.44,728.27 L328.93,724.46 L326.40,720.61 L323.84,716.71 L321.25,712.76 L318.62,708.77 L315.97,704.72 L313.29,700.63 L310.58,696.49 L307.83,692.29 L305.06,688.03 L302.26,683.72 L299.43,679.36 L296.57,674.93 L293.68,670.45 L290.75,665.90 L287.80,661.29 L284.82,656.61 L281.81,651.86 L278.77,647.05 L275.70,642.16 L272.60,637.20 L269.47,632.16 L266.31,627.04 L263.12,621.84 L259.90,616.56 L256.65,611.19 L253.37,605.74 L250.06,600.19 L246.71,594.54 L243.34,588.80 L239.94,582.95 L236.50,576.99 L233.03,570.93 L229.54,564.75 L226.01,558.46 L222.44,552.04 L218.85,545.49 L215.22,538.80 L211.56,531.98 L207.86,525.02 L204.13,517.90 L200.37,510.62 L196.57,503.18 L192.73,495.57 L188.86,487.77 L184.95,479.79 L181.00,471.60 L177.02,463.21 L173.00,454.59 L168.93,445.74 L164.83,436.65 L160.69,427.30 L156.50,417.67 L152.27,407.75 L148.01,397.52 L143.69,386.96 L139.34,376.05 L134.94,364.76 L130.49,353.07 L126.00,340.95 L121.47,328.36 L116.89,315.27 L112.27,301.63 L107.60,287.40 L102.89,272.52 L98.14,256.94 L93.36,240.58 L88.54,223.36 L83.69,205.18 L78.82,185.93 L73.93,165.49 L69.05,143.68 L64.18,120.31 L59.35,95.15 M476.09,865.45 L475.11,862.95 L474.10,860.43 L473.08,857.89 L472.05,855.33 L470.99,852.75 L469.91,850.15 L468.82,847.53 L467.71,844.89 L466.57,842.23 L465.42,839.55 L464.24,836.84 L463.05,834.11 L461.83,831.36 L460.59,828.58 L459.32,825.78 L458.03,822.96 L456.72,820.11 L455.38,817.24 L454.02,814.34 L452.64,811.41 L451.22,808.46 L449.78,805.49 L448.31,802.48 L446.81,799.45 L445.29,796.39 L443.73,793.30 L442.15,790.18 L440.53,787.03 L438.89,783.85 L437.21,780.64 L435.50,777.40 L433.75,774.12 L431.97,770.81 L430.16,767.47 L428.31,764.09 L426.42,760.68 L424.50,757.24 L422.54,753.75 L420.55,750.23 L418.51,746.67 L416.44,743.07 L414.32,739.43 L412.17,735.75 L409.97,732.03 L407.74,728.27 L405.46,724.46 L403.14,720.61 L400.77,716.71 L398.37,712.76 L395.91,708.77 L393.42,704.72 L390.88,700.63 L388.29,696.49 L385.66,692.29 L382.98,688.03 L380.26,683.72 L377.49,679.36 L374.67,674.93 L371.80,670.45 L368.89,665.90 L365.94,661.29 L362.93,656.61 L359.88,651.86 L356.78,647.05 L353.63,642.16 L350.44,637.20 L347.20,632.16 L343.91,627.04 L340.57,621.84 L337.19,616.56 L333.76,611.19 L330.28,605.74 L326.75,600.19 L323.18,594.54 L319.57,588.80 L315.90,582.95 L312.19,576.99 L308.43,570.93 L304.63,564.75 L300.78,558.46 L296.88,552.04 L292.94,545.49 L288.95,538.80 L284.91,531.98 L280.82,525.02 L276.69,517.90 L272.51,510.62 L268.29,503.18 L264.01,495.57 L259.69,487.77 L255.31,479.79 L250.89,471.60 L246.41,463.21 L241.89,454.59 L237.31,445.74 L232.68,436.65 L228.00,427.30 L223.26,417.67 L218.46,407.75 L213.61,397.52 L208.70,386.96 L203.73,376.05 L198.71,364.76 L193.62,353.07 L188.47,340.95 L183.25,328.36 L177.97,315.27 L172.63,301.63 L167.22,287.40 L161.74,272.52 L156.20,256.94 L150.59,240.58 L144.92,223.36 L139.18,205.18 L133.39,185.93 L127.54,165.49 L121.64,143.68 L115.71,120.31 L109.77,95.15 M506.30,865.45 L505.51,862.95 L504.70,860.43 L503.87,857.89 L503.03,855.33 L502.18,852.75 L501.31,850.15 L500.42,847.53 L499.52,844.89 L498.60,842.23 L497.66,839.55 L496.71,836.84 L495.73,834.11 L494.74,831.36 L493.73,828.58 L492.69,825.78 L491.64,822.96 L490.57,820.11 L489.47,817.24 L488.35,814.34 L487.21,811.41 L486.05,808.46 L484.86,805.49 L483.64,802.48 L482.40,799.45 L481.14,796.39 L479.84,793.30 L478.52,790.18 L477.17,787.03 L475.80,783.85 L474.39,780.64 L472.95,777.40 L471.48,774.12 L469.97,770.81 L468.44,767.47 L466.87,764.09 L465.26,760.68 L463.62,757.24 L461.94,753.75 L460.22,750.23 L458.46,746.67 L456.67,743.07 L454.83,739.43 L452.95,735.75 L451.03,732.03 L449.06,728.27 L447.05,724.46 L444.99,720.61 L442.89,716.71 L440.74,712.76 L438.54,708.77 L436.29,704.72 L433.99,700.63 L431.63,696.49 L429.23,692.29 L426.77,688.03 L424.26,683.72 L421.69,679.36 L419.06,674.93 L416.38,670.45 L413.64,665.90 L410.84,661.29 L407.99,656.61 L405.07,651.86 L402.09,647.05 L399.06,642.16 L395.96,637.20 L392.80,632.16 L389.58,627.04 L386.30,621.84 L382.96,616.56 L379.55,611.19 L376.08,605.74 L372.56,600.19 L368.96,594.54 L365.31,588.80 L361.59,582.95 L357.82,576.99 L353.98,570.93 L350.08,564.75 L346.12,558.46 L342.09,552.04 L338.01,545.49 L333.87,538.80 L329.66,531.98 L325.39,525.02 L321.07,517.90 L316.68,510.62 L312.24,503.18 L307.73,495.57 L303.16,487.77 L298.53,479.79 L293.84,471.60 L289.09,463.21 L284.28,454.59 L279.40,445.74 L274.46,436.65 L269.46,427.30 L264.39,417.67 L259.26,407.75 L254.06,397.52 L248.79,386.96 L243.45,376.05 L238.04,364.76 L232.55,353.07 L227.00,340.95 L221.36,328.36 L215.66,315.27 L209.87,301.63 L204.00,287.40 L198.05,272.52 L192.02,256.94 L185.90,240.58 L179.70,223.36 L173.42,205.18 L167.05,185.93 L160.61,165.49 L154.09,143.68 L147.51,120.31 L140.87,95.15 M536.53,865.45 L535.92,862.95 L535.30,860.43 L534.67,857.89 L534.03,855.33 L533.37,852.75 L532.71,850.15 L532.03,847.53 L531.33,844.89 L530.63,842.23 L529.91,839.55 L529.17,836.84 L528.43,834.11 L527.66,831.36 L526.88,828.58 L526.09,825.78 L525.28,822.96 L524.45,820.11 L523.60,817.24 L522.74,814.34 L521.85,811.41 L520.95,808.46 L520.03,805.49 L519.09,802.48 L518.12,799.45 L517.14,796.39 L516.13,793.30 L515.10,790.18 L514.05,787.03 L512.97,783.85 L511.87,780.64 L510.74,777.40 L509.58,774.12 L508.40,770.81 L507.18,767.47 L505.94,764.09 L504.67,760.68 L503.36,757.24 L502.02,753.75 L500.65,750.23 L499.24,746.67 L497.80,743.07 L496.32,739.43 L494.80,735.75 L493.25,732.03 L491.65,728.27 L490.01,724.46 L488.32,720.61 L486.59,716.71 L484.82,712.76 L482.99,708.77 L481.12,704.72 L479.19,700.63 L477.22,696.49 L475.19,692.29 L473.10,688.03 L470.96,683.72 L468.75,679.36 L466.49,674.93 L464.17,670.45 L461.78,665.90 L459.32,661.29 L456.80,656.61 L454.21,651.86 L451.55,647.05 L448.82,642.16 L446.02,637.20 L443.14,632.16 L440.18,627.04 L437.15,621.84 L434.04,616.56 L430.85,611.19 L427.58,605.74 L424.23,600.19 L420.80,594.54 L417.28,588.80 L413.68,582.95 L409.99,576.99 L406.23,570.93 L402.37,564.75 L398.43,558.46 L394.41,552.04 L390.30,545.49 L386.11,538.80 L381.83,531.98 L377.47,525.02 L373.03,517.90 L368.50,510.62 L363.89,503.18 L359.19,495.57 L354.42,487.77 L349.56,479.79 L344.62,471.60 L339.60,463.21 L334.49,454.59 L329.31,445.74 L324.05,436.65 L318.70,427.30 L313.27,417.67 L307.76,407.75 L302.16,397.52 L296.48,386.96 L290.71,376.05 L284.86,364.76 L278.92,353.07 L272.89,340.95 L266.77,328.36 L260.55,315.27 L254.24,301.63 L247.83,287.40 L241.32,272.52 L234.70,256.94 L227.99,240.58 L221.16,223.36 L214.23,205.18 L207.18,185.93 L200.03,165.49 L192.77,143.68 L185.41,120.31 L177.95,95.15 M566.83,865.45 L566.39,862.95 L565.95,860.43 L565.50,857.89 L565.05,855.33 L564.58,852.75 L564.10,850.15 L563.62,847.53 L563.13,844.89 L562.62,842.23 L562.11,839.55 L561.58,836.84 L561.05,834.11 L560.50,831.36 L559.95,828.58 L559.38,825.78 L558.80,822.96 L558.21,820.11 L557.60,817.24 L556.98,814.34 L556.35,811.41 L555.70,808.46 L555.04,805.49 L554.36,802.48 L553.67,799.45 L552.96,796.39 L552.24,793.30 L551.50,790.18 L550.74,787.03 L549.96,783.85 L549.16,780.64 L548.35,777.40 L547.51,774.12 L546.65,770.81 L545.77,767.47 L544.87,764.09 L543.95,760.68 L542.99,757.24 L542.02,753.75 L541.02,750.23 L539.99,746.67 L538.93,743.07 L537.84,739.43 L536.73,735.75 L535.58,732.03 L534.39,728.27 L533.18,724.46 L531.93,720.61 L530.64,716.71 L529.31,712.76 L527.94,708.77 L526.53,704.72 L525.08,700.63 L523.58,696.49 L522.04,692.29 L520.45,688.03 L518.81,683.72 L517.11,679.36 L515.36,674.93 L513.55,670.45 L511.68,665.90 L509.76,661.29 L507.76,656.61 L505.71,651.86 L503.58,647.05 L501.38,642.16 L499.10,637.20 L496.75,632.16 L494.32,627.04 L491.81,621.84 L489.21,616.56 L486.52,611.19 L483.74,605.74 L480.87,600.19 L477.89,594.54 L474.82,588.80 L471.65,582.95 L468.37,576.99 L464.98,570.93 L461.48,564.75 L457.87,558.46 L454.15,552.04 L450.31,545.49 L446.35,538.80 L442.27,531.98 L438.07,525.02 L433.75,517.90 L429.31,510.62 L424.75,503.18 L420.06,495.57 L415.25,487.77 L410.32,479.79 L405.27,471.60 L400.10,463.21 L394.81,454.59 L389.40,445.74 L383.87,436.65 L378.22,427.30 L372.45,417.67 L366.57,407.75 L360.58,397.52 L354.47,386.96 L348.24,376.05 L341.90,364.76 L335.44,353.07 L328.87,340.95 L322.18,328.36 L315.36,315.27 L308.43,301.63 L301.37,287.40 L294.18,272.52 L286.87,256.94 L279.42,240.58 L271.83,223.36 L264.10,205.18 L256.23,185.93 L248.21,165.49 L240.05,143.68 L231.73,120.31 L223.27,95.15 M597.25,865.45 L596.97,862.95 L596.69,860.43 L596.40,857.89 L596.11,855.33 L595.81,852.75 L595.51,850.15 L595.20,847.53 L594.88,844.89 L594.56,842.23 L594.23,839.55 L593.90,836.84 L593.55,834.11 L593.20,831.36 L592.85,828.58 L592.48,825.78 L592.11,822.96 L591.73,820.11 L591.34,817.24 L590.94,814.34 L590.54,811.41 L590.12,808.46 L589.70,805.49 L589.26,802.48 L588.82,799.45 L588.36,796.39 L587.89,793.30 L587.41,790.18 L586.92,787.03 L586.42,783.85 L585.91,780.64 L585.38,777.40 L584.84,774.12 L584.28,770.81 L583.71,767.47 L583.12,764.09 L582.52,760.68 L581.90,757.24 L581.27,753.75 L580.62,750.23 L579.94,746.67 L579.25,743.07 L578.54,739.43 L577.81,735.75 L577.06,732.03 L576.28,728.27 L575.48,724.46 L574.65,720.61 L573.80,716.71 L572.93,712.76 L572.02,708.77 L571.08,704.72 L570.12,700.63 L569.12,696.49 L568.09,692.29 L567.02,688.03 L565.91,683.72 L564.77,679.36 L563.59,674.93 L562.36,670.45 L561.09,665.90 L559.77,661.29 L558.40,656.61 L556.99,651.86 L555.51,647.05 L553.98,642.16 L552.39,637.20 L550.74,632.16 L549.02,627.04 L547.23,621.84 L545.37,616.56 L543.43,611.19 L541.41,605.74 L539.30,600.19 L537.11,594.54 L534.82,588.80 L532.43,582.95 L529.94,576.99 L527.34,570.93 L524.62,564.75 L521.79,558.46 L518.83,552.04 L515.74,545.49 L512.51,538.80 L509.14,531.98 L505.62,525.02 L501.95,517.90 L498.12,510.62 L494.13,503.18 L489.97,495.57 L485.63,487.77 L481.12,479.79 L476.43,471.60 L471.55,463.21 L466.48,454.59 L461.23,445.74 L455.79,436.65 L450.16,427.30 L444.34,417.67 L438.33,407.75 L432.14,397.52 L425.76,386.96 L419.19,376.05 L412.45,364.76 L405.52,353.07 L398.42,340.95 L391.14,328.36 L383.69,315.27 L376.07,301.63 L368.26,287.40 L360.29,272.52 L352.14,256.94 L343.80,240.58 L335.29,223.36 L326.58,205.18 L317.69,185.93 L308.59,165.49 L299.29,143.68 L289.79,120.31 L280.07,95.15 M627.81,865.45 L627.67,862.95 L627.53,860.43 L627.38,857.89 L627.23,855.33 L627.08,852.75 L626.92,850.15 L626.76,847.53 L626.60,844.89 L626.43,842.23 L626.26,839.55 L626.09,836.84 L625.91,834.11 L625.73,831.36 L625.54,828.58 L625.35,825.78 L625.16,822.96 L624.96,820.11 L624.76,817.24 L624.55,814.34 L624.33,811.41 L624.12,808.46 L623.89,805.49 L623.66,802.48 L623.43,799.45 L623.19,796.39 L622.94,793.30 L622.69,790.18 L622.43,787.03 L622.16,783.85 L621.89,780.64 L621.60,777.40 L621.31,774.12 L621.02,770.81 L620.71,767.47 L620.40,764.09 L620.07,760.68 L619.74,757.24 L619.39,753.75 L619.04,750.23 L618.68,746.67 L618.30,743.07 L617.91,739.43 L617.51,735.75 L617.10,732.03 L616.68,728.27 L616.24,724.46 L615.78,720.61 L615.31,716.71 L614.83,712.76 L614.33,708.77 L613.81,704.72 L613.27,700.63 L612.71,696.49 L612.14,692.29 L611.54,688.03 L610.92,683.72 L610.27,679.36 L609.60,674.93 L608.91,670.45 L608.19,665.90 L607.44,661.29 L606.65,656.61 L605.84,651.86 L604.99,647.05 L604.11,642.16 L603.19,637.20 L602.22,632.16 L601.22,627.04 L600.17,621.84 L599.07,616.56 L597.92,611.19 L596.72,605.74 L595.46,600.19 L594.14,594.54 L592.75,588.80 L591.30,582.95 L589.77,576.99 L588.16,570.93 L586.47,564.75 L584.69,558.46 L582.81,552.04 L580.83,545.49 L578.74,538.80 L576.53,531.98 L574.19,525.02 L571.73,517.90 L569.11,510.62 L566.35,503.18 L563.42,495.57 L560.31,487.77 L557.02,479.79 L553.53,471.60 L549.83,463.21 L545.90,454.59 L541.74,445.74 L537.32,436.65 L532.65,427.30 L527.69,417.67 L522.45,407.75 L516.92,397.52 L511.08,386.96 L504.92,376.05 L498.45,364.76 L491.66,353.07 L484.55,340.95 L477.11,328.36 L469.36,315.27 L461.30,301.63 L452.93,287.40 L444.25,272.52 L435.28,256.94 L426.02,240.58 L416.46,223.36 L406.62,205.18 L396.50,185.93 L386.08,165.49 L375.37,143.68 L364.36,120.31 L353.04,95.15 M658.52,865.45 L658.50,862.95 L658.47,860.43 L658.44,857.89 L658.40,855.33 L658.37,852.75 L658.34,850.15 L658.30,847.53 L658.27,844.89 L658.23,842.23 L658.19,839.55 L658.15,836.84 L658.11,834.11 L658.07,831.36 L658.02,828.58 L657.98,825.78 L657.93,822.96 L657.88,820.11 L657.83,817.24 L657.78,814.34 L657.72,811.41 L657.66,808.46 L657.61,805.49 L657.54,802.48 L657.48,799.45 L657.42,796.39 L657.35,793.30 L657.28,790.18 L657.20,787.03 L657.13,783.85 L657.05,780.64 L656.97,777.40 L656.88,774.12 L656.79,770.81 L656.70,767.47 L656.60,764.09 L656.50,760.68 L656.40,757.24 L656.29,753.75 L656.18,750.23 L656.06,746.67 L655.94,743.07 L655.81,739.43 L655.68,735.75 L655.54,732.03 L655.39,728.27 L655.24,724.46 L655.08,720.61 L654.92,716.71 L654.75,712.76 L654.57,708.77 L654.38,704.72 L654.18,700.63 L653.98,696.49 L653.76,692.29 L653.54,688.03 L653.31,683.72 L653.06,679.36 L652.80,674.93 L652.53,670.45 L652.25,665.90 L651.95,661.29 L651.64,656.61 L651.31,651.86 L650.97,647.05 L650.61,642.16 L650.22,637.20 L649.82,632.16 L649.40,627.04 L648.96,621.84 L648.49,616.56 L648.00,611.19 L647.48,605.74 L646.92,600.19 L646.34,594.54 L645.73,588.80 L645.08,582.95 L644.38,576.99 L643.65,570.93 L642.88,564.75 L642.05,558.46 L641.17,552.04 L640.24,545.49 L639.25,538.80 L638.19,531.98 L637.05,525.02 L635.84,517.90 L634.55,510.62 L633.17,503.18 L631.68,495.57 L630.09,487.77 L628.37,479.79 L626.53,471.60 L624.54,463.21 L622.40,454.59 L620.08,445.74 L617.57,436.65 L614.85,427.30 L611.90,417.67 L608.70,407.75 L605.22,397.52 L601.43,386.96 L597.30,376.05 L592.81,364.76 L587.91,353.07 L582.57,340.95 L576.75,328.36 L570.43,315.27 L563.57,301.63 L556.13,287.40 L548.11,272.52 L539.47,256.94 L530.23,240.58 L520.36,223.36 L509.90,205.18 L498.84,185.93 L487.22,165.49 L475.03,143.68 L462.32,120.31 L449.07,95.15 M689.38,865.45 L689.44,862.95 L689.50,860.43 L689.57,857.89 L689.63,855.33 L689.70,852.75 L689.76,850.15 L689.83,847.53 L689.89,844.89 L689.96,842.23 L690.03,839.55 L690.09,836.84 L690.16,834.11 L690.23,831.36 L690.30,828.58 L690.37,825.78 L690.44,822.96 L690.51,820.11 L690.58,817.24 L690.65,814.34 L690.72,811.41 L690.79,808.46 L690.86,805.49 L690.93,802.48 L691.00,799.45 L691.07,796.39 L691.15,793.30 L691.22,790.18 L691.29,787.03 L691.37,783.85 L691.44,780.64 L691.51,777.40 L691.58,774.12 L691.66,770.81 L691.73,767.47 L691.80,764.09 L691.88,760.68 L691.95,757.24 L692.02,753.75 L692.09,750.23 L692.16,746.67 L692.24,743.07 L692.31,739.43 L692.38,735.75 L692.45,732.03 L692.52,728.27 L692.58,724.46 L692.65,720.61 L692.72,716.71 L692.78,712.76 L692.84,708.77 L692.91,704.72 L692.97,700.63 L693.02,696.49 L693.08,692.29 L693.14,688.03 L693.19,683.72 L693.24,679.36 L693.29,674.93 L693.33,670.45 L693.37,665.90 L693.41,661.29 L693.44,656.61 L693.47,651.86 L693.50,647.05 L693.52,642.16 L693.53,637.20 L693.54,632.16 L693.55,627.04 L693.54,621.84 L693.53,616.56 L693.51,611.19 L693.48,605.74 L693.45,600.19 L693.40,594.54 L693.34,588.80 L693.27,582.95 L693.19,576.99 L693.09,570.93 L692.98,564.75 L692.85,558.46 L692.70,552.04 L692.53,545.49 L692.33,538.80 L692.12,531.98 L691.87,525.02 L691.60,517.90 L691.30,510.62 L690.95,503.18 L690.57,495.57 L690.15,487.77 L689.68,479.79 L689.15,471.60 L688.56,463.21 L687.91,454.59 L687.18,445.74 L686.37,436.65 L685.47,427.30 L684.46,417.67 L683.33,407.75 L682.07,397.52 L680.65,386.96 L679.07,376.05 L677.28,364.76 L675.27,353.07 L673.00,340.95 L670.42,328.36 L667.50,315.27 L664.18,301.63 L660.39,287.40 L656.06,272.52 L651.09,256.94 L645.40,240.58 L638.86,223.36 L631.36,205.18 L622.78,185.93 L612.99,165.49 L601.91,143.68 L589.47,120.31 L575.66,95.15 M720.36,865.45 L720.49,862.95 L720.63,860.43 L720.77,857.89 L720.91,855.33 L721.05,852.75 L721.19,850.15 L721.33,847.53 L721.48,844.89 L721.63,842.23 L721.78,839.55 L721.93,836.84 L722.08,834.11 L722.23,831.36 L722.39,828.58 L722.55,825.78 L722.71,822.96 L722.87,820.11 L723.03,817.24 L723.20,814.34 L723.36,811.41 L723.53,808.46 L723.70,805.49 L723.88,802.48 L724.05,799.45 L724.23,796.39 L724.41,793.30 L724.59,790.18 L724.77,787.03 L724.96,783.85 L725.15,780.64 L725.34,777.40 L725.53,774.12 L725.73,770.81 L725.92,767.47 L726.12,764.09 L726.33,760.68 L726.53,757.24 L726.74,753.75 L726.95,750.23 L727.16,746.67 L727.38,743.07 L727.59,739.43 L727.81,735.75 L728.04,732.03 L728.26,728.27 L728.49,724.46 L728.72,720.61 L728.96,716.71 L729.19,712.76 L729.43,708.77 L729.68,704.72 L729.92,700.63 L730.17,696.49 L730.42,692.29 L730.68,688.03 L730.94,683.72 L731.20,679.36 L731.46,674.93 L731.73,670.45 L732.00,665.90 L732.28,661.29 L732.56,656.61 L732.84,651.86 L733.12,647.05 L733.41,642.16 L733.70,637.20 L733.99,632.16 L734.29,627.04 L734.59,621.84 L734.89,616.56 L735.20,611.19 L735.51,605.74 L735.82,600.19 L736.14,594.54 L736.46,588.80 L736.78,582.95 L737.10,576.99 L737.43,570.93 L737.75,564.75 L738.08,558.46 L738.41,552.04 L738.75,545.49 L739.08,538.80 L739.41,531.98 L739.75,525.02 L740.08,517.90 L740.41,510.62 L740.74,503.18 L741.07,495.57 L741.39,487.77 L741.71,479.79 L742.02,471.60 L742.32,463.21 L742.61,454.59 L742.90,445.74 L743.16,436.65 L743.41,427.30 L743.64,417.67 L743.84,407.75 L744.01,397.52 L744.15,386.96 L744.25,376.05 L744.29,364.76 L744.28,353.07 L744.20,340.95 L744.03,328.36 L743.75,315.27 L743.36,301.63 L742.82,287.40 L742.09,272.52 L741.15,256.94 L739.93,240.58 L738.37,223.36 L736.39,205.18 L733.87,185.93 L730.68,165.49 L726.60,143.68 L721.40,120.31 L714.73,95.15" fill="none" stroke="#0000ff" stroke-opacity="0.5" stroke-width="1.39" stroke-dasharray="5.14 2.22"/>
<path d="M596.00,84.00 L590.00,95.00 L582.10,110.40 L553.80,159.10 L544.70,183.00 L532.20,241.90 L523.60,280.40 L516.80,300.80 L506.10,323.00 L490.70,348.40 L458.00,391.50 L445.20,417.40 L437.70,440.40 L437.00,452.70 L437.40,464.00 L444.20,487.80 L454.40,507.10 L468.00,529.70 L483.90,558.10 L493.00,581.90 L498.90,600.00 L501.60,613.60 L503.40,629.50 L503.40,656.70 L504.30,690.70 L505.00,699.80 L513.00,720.20 L518.40,740.00 L520.50,746.50 L521.10,759.00 L520.00,772.00 L519.00,779.00 L524.80,800.00 L529.10,811.00 L533.40,820.30 L542.40,833.90 L553.20,844.60 L563.40,851.00" fill="none" stroke="#ff0000" stroke-width="2.08" stroke-linejoin="round" stroke-linecap="square"/>
<path d="M405.00,84.00 L399.00,95.60 L321.40,230.00 L308.20,253.90 L303.80,277.40 L310.20,300.60 L321.30,324.80 L333.40,347.00 L343.50,369.10 L347.80,394.20 L345.90,417.80 L360.00,440.90 L404.40,464.10 L426.00,488.50 L430.00,512.00 L426.80,534.70 L447.60,558.10 L483.90,581.40 L489.50,600.00 L493.70,615.90 L495.90,631.70 L497.10,676.00 L491.40,697.50 L451.70,722.40 L464.20,743.30 L459.70,762.10 L486.20,778.80 L499.70,794.40 L508.50,816.40 L522.60,825.20 L529.30,831.40 L527.00,851.70" fill="none" stroke="#008000" stroke-width="2.08" stroke-linejoin="round" stroke-linecap="square"/>
<path d="M564.00,851.00 L535.00,821.30 L533.96,819.29 L533.56,817.82 L533.16,816.35 L532.75,814.86 L532.34,813.37 L531.93,811.88 L531.51,810.38 L531.09,808.87 L530.66,807.35 L530.23,805.83 L529.79,804.29 L529.34,802.76 L528.90,801.21 L528.44,799.66 L527.98,798.10 L527.52,796.53 L527.05,794.96 L526.58,793.37 L526.10,791.78 L525.61,790.19 L525.12,788.58 L524.62,786.97 L524.12,785.35 L523.61,783.72 L523.09,782.08 L522.57,780.43 L522.04,778.78 L521.51,777.11 L520.96,775.44 L520.42,773.76 L519.86,772.07 L519.30,770.38 L518.73,768.67 L518.15,766.96 L517.57,765.23 L516.98,763.50 L516.38,761.76 L515.77,760.00 L515.16,758.24 L514.54,756.47 L513.91,754.69 L513.27,752.90 L512.62,751.10 L511.96,749.29 L511.30,747.47 L510.63,745.64 L509.95,743.80 L509.25,741.95 L508.55,740.09 L507.84,738.22 L507.12,736.33 L506.40,734.44 L505.66,732.54 L504.91,730.62 L504.15,728.69 L503.38,726.76 L502.60,724.81 L501.80,722.84 L501.00,720.87 L500.19,718.89 L499.36,716.89 L498.52,714.88 L497.67,712.86 L496.81,710.82 L495.94,708.77 L495.05,706.71 L494.15,704.64 L493.24,702.55 L492.32,700.45 L491.38,698.34 L490.43,696.21 L489.46,694.07 L488.48,691.92 L487.49,689.75 L486.48,687.56 L485.46,685.37 L484.42,683.15 L483.37,680.92 L482.30,678.68 L481.21,676.42 L480.11,674.15 L478.99,671.86 L477.86,669.55 L476.71,667.23 L475.54,664.89 L474.36,662.53 L473.16,660.15 L471.94,657.76 L470.70,655.36 L469.44,652.93 L468.17,650.48 L466.88,648.02 L465.56,645.54 L464.23,643.04 L462.88,640.52 L461.51,637.98 L460.12,635.42 L458.71,632.84 L457.28,630.24 L455.83,627.62 L454.35,624.98 L452.86,622.32 L451.34,619.63 L449.81,616.92 L448.25,614.19 L446.67,611.44 L445.06,608.66 L443.44,605.86 L441.79,603.04 L440.12,600.19 L438.42,597.32 L436.70,594.42 L434.96,591.50 L433.20,588.54 L431.41,585.57 L429.60,582.56 L427.76,579.53 L425.91,576.47 L424.02,573.38 L422.12,570.26 L420.18,567.11 L418.23,563.93 L416.25,560.71 L414.24,557.47 L412.22,554.20 L410.16,550.89 L408.08,547.54 L405.98,544.17 L403.86,540.75 L401.70,537.31 L399.53,533.82 L397.33,530.30 L395.10,526.74 L392.86,523.14 L390.58,519.50 L388.29,515.82 L385.96,512.10 L383.62,508.33 L381.25,504.52 L378.85,500.67 L376.44,496.77 L373.99,492.82 L371.53,488.83 L369.04,484.78 L366.53,480.69 L363.99,476.54 L361.43,472.34 L358.84,468.09 L356.24,463.78 L353.61,459.41 L350.95,454.98 L348.27,450.50 L345.57,445.95 L342.85,441.33 L340.10,436.65 L337.33,431.91 L334.53,427.09 L331.71,422.20 L328.87,417.24 L326.01,412.20 L323.12,407.08 L320.21,401.88 L317.27,396.60 L314.31,391.23 L311.33,385.77 L308.32,380.22 L305.29,374.57 L302.23,368.82 L299.15,362.97 L296.04,357.02 L292.91,350.95 L289.76,344.77 L286.57,338.47 L283.37,332.05 L280.13,325.50 L276.88,318.81 L273.59,311.99 L270.28,305.02 L266.94,297.90 L263.57,290.62 L260.18,283.18 L256.75,275.56 L253.30,267.76 L249.82,259.77 L246.31,251.58 L242.77,243.18 L239.20,234.56 L235.60,225.71 L231.97,216.61 L228.31,207.25 L224.62,197.62 L220.90,187.69 L217.15,177.46 L213.36,166.89 L209.55,155.97 L205.70,144.68 L201.82,132.98 L197.92,120.85 L193.98,108.25 L190.02,95.15 L180.20,60.63" fill="none" stroke="#000" stroke-width="2.78" stroke-linejoin="round" stroke-linecap="square"/>
<path d="M534.8,823.0 L527.6,850.6" fill="none" stroke="#000" stroke-width="2.78" stroke-linecap="square"/>
</g>
<rect x="83.5" y="95.5" width="629" height="770" fill="none" stroke="#000" stroke-width="1.11"/>
<path d="M712.00,137.00 L678.71,146.80 M678.71,146.80 L670.63,134.71 M682.87,145.57 L678.83,139.53 M712.00,183.80 L679.85,196.86 M679.85,196.86 L670.61,185.63 M683.87,195.23 L679.25,189.61 M712.00,230.80 L679.12,241.89 M679.12,241.89 L670.57,230.13 M683.23,240.51 L674.68,228.74 M712.00,277.80 L679.06,288.71 M679.06,288.71 L670.58,276.90 M683.18,287.35 L674.70,275.54 M687.30,285.98 L683.05,280.08 M712.00,324.10 L680.73,339.14 M680.73,339.14 L670.80,328.51 M684.64,337.26 L674.71,326.63 M688.54,335.38 L683.58,330.06 M712.00,370.50 L681.71,387.42 M681.71,387.42 L671.15,377.42 M685.49,385.31 L674.94,375.30 M712.00,417.90 L689.86,444.62 M689.86,444.62 L676.40,439.10 M692.63,441.28 L685.90,438.52 M712.00,464.70 L690.31,491.79 M690.31,491.79 L676.77,486.50 M693.02,488.40 L686.25,485.76 M712.00,511.50 L685.89,534.36 M685.89,534.36 L673.49,526.77 M712.00,558.70 L688.60,584.33 M688.60,584.33 L675.43,578.17 M691.53,581.12 L684.94,578.04 M712.00,605.50 L684.01,626.01 M684.01,626.01 L672.31,617.38 M712.00,653.00 L688.60,678.63 M688.60,678.63 L675.43,672.47 M712.00,699.60 L693.73,729.10 M693.73,729.10 L679.64,725.48 M712.00,743.90 L680.29,757.99 M680.29,757.99 L670.69,747.07 M712.00,778.50 L678.51,787.57 M678.51,787.57 L670.69,775.31 M712.00,805.90 L677.64,810.74 M684.08,809.83 L680.97,803.26 M712.00,825.60 L678.62,835.09 M684.88,833.31 L680.90,827.23 M712.00,837.40 L681.51,853.96 M687.22,850.85 L682.01,845.79 M712.00,845.60 L681.51,862.16 M687.22,859.05 L682.01,853.99 M712.00,850.60 L681.51,867.16 M687.22,864.05 L682.01,858.99" fill="none" stroke="#000" stroke-width="1.9" stroke-linecap="butt" stroke-linejoin="miter"/>
<line x1="78.64" y1="95.50" x2="83.5" y2="95.50" stroke="#000" stroke-width="1.11"/>
<text x="47.88" y="100.80" font-family="Liberation Sans, sans-serif" font-size="13.9" text-anchor="start" textLength="25.12" lengthAdjust="spacingAndGlyphs" xml:space="preserve" >100</text>
<line x1="78.64" y1="322.50" x2="83.5" y2="322.50" stroke="#000" stroke-width="1.11"/>
<text x="47.88" y="327.80" font-family="Liberation Sans, sans-serif" font-size="13.9" text-anchor="start" textLength="25.12" lengthAdjust="spacingAndGlyphs" xml:space="preserve" >200</text>
<line x1="78.64" y1="455.50" x2="83.5" y2="455.50" stroke="#000" stroke-width="1.11"/>
<text x="47.88" y="460.80" font-family="Liberation Sans, sans-serif" font-size="13.9" text-anchor="start" textLength="25.12" lengthAdjust="spacingAndGlyphs" xml:space="preserve" >300</text>
<line x1="78.64" y1="549.50" x2="83.5" y2="549.50" stroke="#000" stroke-width="1.11"/>
<text x="47.88" y="554.80" font-family="Liberation Sans, sans-serif" font-size="13.9" text-anchor="start" textLength="25.12" lengthAdjust="spacingAndGlyphs" xml:space="preserve" >400</text>
<line x1="78.64" y1="622.50" x2="83.5" y2="622.50" stroke="#000" stroke-width="1.11"/>
<text x="47.88" y="627.80" font-family="Liberation Sans, sans-serif" font-size="13.9" text-anchor="start" textLength="25.12" lengthAdjust="spacingAndGlyphs" xml:space="preserve" >500</text>
<line x1="78.64" y1="682.50" x2="83.5" y2="682.50" stroke="#000" stroke-width="1.11"/>
<text x="47.88" y="687.80" font-family="Liberation Sans, sans-serif" font-size="13.9" text-anchor="start" textLength="25.12" lengthAdjust="spacingAndGlyphs" xml:space="preserve" >600</text>
<line x1="78.64" y1="733.50" x2="83.5" y2="733.50" stroke="#000" stroke-width="1.11"/>
<text x="47.88" y="738.80" font-family="Liberation Sans, sans-serif" font-size="13.9" text-anchor="start" textLength="25.12" lengthAdjust="spacingAndGlyphs" xml:space="preserve" >700</text>
<line x1="78.64" y1="776.50" x2="83.5" y2="776.50" stroke="#000" stroke-width="1.11"/>
<text x="47.88" y="781.80" font-family="Liberation Sans, sans-serif" font-size="13.9" text-anchor="start" textLength="25.12" lengthAdjust="spacingAndGlyphs" xml:space="preserve" >800</text>
<line x1="78.64" y1="815.50" x2="83.5" y2="815.50" stroke="#000" stroke-width="1.11"/>
<text x="47.88" y="820.80" font-family="Liberation Sans, sans-serif" font-size="13.9" text-anchor="start" textLength="25.12" lengthAdjust="spacingAndGlyphs" xml:space="preserve" >900</text>
<line x1="78.64" y1="849.50" x2="83.5" y2="849.50" stroke="#000" stroke-width="1.11"/>
<text x="39.04" y="854.80" font-family="Liberation Sans, sans-serif" font-size="13.9" text-anchor="start" textLength="33.96" lengthAdjust="spacingAndGlyphs" xml:space="preserve" >1000</text>
<line x1="83.50" y1="865.5" x2="83.50" y2="870.36" stroke="#000" stroke-width="1.11"/>
<text x="70.36" y="887.00" font-family="Liberation Sans, sans-serif" font-size="13.9" text-anchor="start" textLength="26.28" lengthAdjust="spacingAndGlyphs" xml:space="preserve" >−60</text>
<line x1="146.50" y1="865.5" x2="146.50" y2="870.36" stroke="#000" stroke-width="1.11"/>
<text x="133.36" y="887.00" font-family="Liberation Sans, sans-serif" font-size="13.9" text-anchor="start" textLength="26.28" lengthAdjust="spacingAndGlyphs" xml:space="preserve" >−50</text>
<line x1="209.50" y1="865.5" x2="209.50" y2="870.36" stroke="#000" stroke-width="1.11"/>
<text x="196.36" y="887.00" font-family="Liberation Sans, sans-serif" font-size="13.9" text-anchor="start" textLength="26.28" lengthAdjust="spacingAndGlyphs" xml:space="preserve" >−40</text>
<line x1="272.50" y1="865.5" x2="272.50" y2="870.36" stroke="#000" stroke-width="1.11"/>
<text x="259.36" y="887.00" font-family="Liberation Sans, sans-serif" font-size="13.9" text-anchor="start" textLength="26.28" lengthAdjust="spacingAndGlyphs" xml:space="preserve" >−30</text>
<line x1="335.50" y1="865.5" x2="335.50" y2="870.36" stroke="#000" stroke-width="1.11"/>
<text x="322.36" y="887.00" font-family="Liberation Sans, sans-serif" font-size="13.9" text-anchor="start" textLength="26.28" lengthAdjust="spacingAndGlyphs" xml:space="preserve" >−20</text>
<line x1="398.50" y1="865.5" x2="398.50" y2="870.36" stroke="#000" stroke-width="1.11"/>
<text x="385.36" y="887.00" font-family="Liberation Sans, sans-serif" font-size="13.9" text-anchor="start" textLength="26.28" lengthAdjust="spacingAndGlyphs" xml:space="preserve" >−10</text>
<line x1="460.50" y1="865.5" x2="460.50" y2="870.36" stroke="#000" stroke-width="1.11"/>
<text x="456.88" y="887.00" font-family="Liberation Sans, sans-serif" font-size="13.9" text-anchor="start" textLength="7.24" lengthAdjust="spacingAndGlyphs" xml:space="preserve" >0</text>
<line x1="523.50" y1="865.5" x2="523.50" y2="870.36" stroke="#000" stroke-width="1.11"/>
<text x="515.46" y="887.00" font-family="Liberation Sans, sans-serif" font-size="13.9" text-anchor="start" textLength="16.08" lengthAdjust="spacingAndGlyphs" xml:space="preserve" >10</text>
<line x1="586.50" y1="865.5" x2="586.50" y2="870.36" stroke="#000" stroke-width="1.11"/>
<text x="578.46" y="887.00" font-family="Liberation Sans, sans-serif" font-size="13.9" text-anchor="start" textLength="16.08" lengthAdjust="spacingAndGlyphs" xml:space="preserve" >20</text>
<line x1="649.50" y1="865.5" x2="649.50" y2="870.36" stroke="#000" stroke-width="1.11"/>
<text x="641.46" y="887.00" font-family="Liberation Sans, sans-serif" font-size="13.9" text-anchor="start" textLength="16.08" lengthAdjust="spacingAndGlyphs" xml:space="preserve" >30</text>
<line x1="712.50" y1="865.5" x2="712.50" y2="870.36" stroke="#000" stroke-width="1.11"/>
<text x="704.46" y="887.00" font-family="Liberation Sans, sans-serif" font-size="13.9" text-anchor="start" textLength="16.08" lengthAdjust="spacingAndGlyphs" xml:space="preserve" >40</text>
<text x="335.60" y="907.90" font-family="Liberation Sans, sans-serif" font-size="13.9" text-anchor="start" textLength="98.90" lengthAdjust="spacingAndGlyphs" xml:space="preserve" >Temperature (</text>
<circle cx="439.9" cy="899.1" r="1.55" fill="none" stroke="#000" stroke-width="0.85"/>
<text x="445.30" y="907.90" font-family="Liberation Sans, sans-serif" font-size="13.9" text-anchor="start" textLength="14.60" lengthAdjust="spacingAndGlyphs" xml:space="preserve" >C)</text>
<text transform="translate(29.2,531.4) rotate(-90)" font-family="Liberation Sans, sans-serif" font-size="13.9" textLength="99.7" lengthAdjust="spacingAndGlyphs">Pressure (hPa)</text>
<text x="10.30" y="20.90" font-family="Liberation Sans, sans-serif" font-size="13.9" font-weight="bold" stroke="#000" stroke-width="0.45" text-anchor="start" textLength="160.40" lengthAdjust="spacingAndGlyphs" xml:space="preserve" >SkewTLogP Glasgow</text>
<text x="10.70" y="36.70" font-family="Liberation Sans, sans-serif" font-size="13.9" font-weight="bold" stroke="#000" stroke-width="0.45" text-anchor="start" textLength="77.90" lengthAdjust="spacingAndGlyphs" xml:space="preserve" >Lat: 55.87</text>
<text x="103.90" y="36.70" font-family="Liberation Sans, sans-serif" font-size="13.9" font-weight="bold" stroke="#000" stroke-width="0.45" text-anchor="start" textLength="77.70" lengthAdjust="spacingAndGlyphs" xml:space="preserve" >Lon: -4.43</text>
<text x="10.10" y="52.70" font-family="Liberation Sans, sans-serif" font-size="13.9" font-weight="bold" stroke="#000" stroke-width="0.45" text-anchor="start" textLength="631.20" lengthAdjust="spacingAndGlyphs" xml:space="preserve" >Simulation start time: 2024-07-19_00:00:00, Valid time: 2024-07-21T13:00:00.00</text>
<text x="10.10" y="69.70" font-family="Liberation Sans, sans-serif" font-size="13.9" font-weight="bold" stroke="#000" stroke-width="0.45" text-anchor="start" textLength="529.70" lengthAdjust="spacingAndGlyphs" xml:space="preserve" >CAPE=13 j/kg, CIN=0 j/kg, LCL=917 hPa, LFC=920 hPa, EQ=791 hPa</text>
<text x="11.30" y="86.75" font-family="Liberation Sans, sans-serif" font-size="13.9" font-weight="bold" stroke="#000" stroke-width="0.45" text-anchor="start" textLength="81.10" lengthAdjust="spacingAndGlyphs" xml:space="preserve" >LFT IDX=8</text>
<text x="101.40" y="86.75" font-family="Liberation Sans, sans-serif" font-size="13.9" font-weight="bold" stroke="#000" stroke-width="0.45" text-anchor="start" textLength="94.80" lengthAdjust="spacingAndGlyphs" xml:space="preserve" >C, K IDX=10</text>
<text x="206.20" y="86.75" font-family="Liberation Sans, sans-serif" font-size="13.9" font-weight="bold" stroke="#000" stroke-width="0.45" text-anchor="start" textLength="147.90" lengthAdjust="spacingAndGlyphs" xml:space="preserve" >C, TOTAL TOTS=35</text>
<text x="363.10" y="86.75" font-family="Liberation Sans, sans-serif" font-size="13.9" font-weight="bold" stroke="#000" stroke-width="0.45" text-anchor="start" textLength="143.10" lengthAdjust="spacingAndGlyphs" xml:space="preserve" >C, SHWTR_IDX=11</text>
<text x="516.20" y="86.75" font-family="Liberation Sans, sans-serif" font-size="13.9" font-weight="bold" stroke="#000" stroke-width="0.45" text-anchor="start" textLength="11.40" lengthAdjust="spacingAndGlyphs" xml:space="preserve" >C</text>
<circle cx="97.6" cy="77.9" r="1.6" fill="none" stroke="#000" stroke-width="1.0"/>
<circle cx="201.4" cy="77.9" r="1.6" fill="none" stroke="#000" stroke-width="1.0"/>
<circle cx="359.3" cy="77.9" r="1.6" fill="none" stroke="#000" stroke-width="1.0"/>
<circle cx="511.7" cy="77.9" r="1.6" fill="none" stroke="#000" stroke-width="1.0"/>
<text x="123.20" y="681.60" font-family="Liberation Sans, sans-serif" font-size="12.3" font-weight="bold" stroke="#000" stroke-width="0.45" text-anchor="start" textLength="85.90" lengthAdjust="spacingAndGlyphs" xml:space="preserve" >Wind Profile</text>
<text x="111.90" y="696.70" font-family="Liberation Sans, sans-serif" font-size="12.3" font-weight="bold" stroke="#000" stroke-width="0.45" text-anchor="start" textLength="117.80" lengthAdjust="spacingAndGlyphs" xml:space="preserve" >10m/s increment</text>
<defs><clipPath id="hc"><rect x="91.5" y="704.5" width="154.00" height="154.00"/></clipPath></defs>
<rect x="91.5" y="704.5" width="154.00" height="154.00" fill="#fff"/>
<g clip-path="url(#hc)">
<circle cx="167.5" cy="780.5" r="25.40" fill="none" stroke="#808080" stroke-width="1.39" stroke-dasharray="5.14 2.22"/>
<circle cx="167.5" cy="780.5" r="50.80" fill="none" stroke="#808080" stroke-width="1.39" stroke-dasharray="5.14 2.22"/>
<circle cx="167.5" cy="780.5" r="76.20" fill="none" stroke="#808080" stroke-width="1.39" stroke-dasharray="5.14 2.22"/>
<circle cx="167.5" cy="780.5" r="101.60" fill="none" stroke="#808080" stroke-width="1.39" stroke-dasharray="5.14 2.22"/>
<circle cx="167.5" cy="780.5" r="127.00" fill="none" stroke="#808080" stroke-width="1.39" stroke-dasharray="5.14 2.22"/>
<line x1="91.5" y1="780.5" x2="245.5" y2="780.5" stroke="#808080" stroke-width="2.08" stroke-dasharray="7.71 3.33"/>
<line x1="167.5" y1="704.5" x2="167.5" y2="858.5" stroke="#808080" stroke-width="2.08" stroke-dasharray="7.71 3.33"/>
<line x1="179.3" y1="774.0" x2="182.5" y2="776.8" stroke="#45085b" stroke-width="4.0" stroke-linecap="square"/>
<line x1="182.5" y1="776.8" x2="185.8" y2="779.2" stroke="#471669" stroke-width="4.0" stroke-linecap="square"/>
<line x1="185.8" y1="779.2" x2="189.8" y2="775.2" stroke="#482374" stroke-width="4.0" stroke-linecap="square"/>
<line x1="189.8" y1="775.2" x2="188.6" y2="769.5" stroke="#46307d" stroke-width="4.0" stroke-linecap="square"/>
<line x1="188.6" y1="769.5" x2="186.2" y2="767.1" stroke="#423d84" stroke-width="4.0" stroke-linecap="square"/>
<line x1="186.2" y1="767.1" x2="183.5" y2="764.5" stroke="#3e4888" stroke-width="4.0" stroke-linecap="square"/>
<line x1="183.5" y1="764.5" x2="181.3" y2="762.2" stroke="#3b508a" stroke-width="4.0" stroke-linecap="square"/>
<line x1="181.3" y1="762.2" x2="185.5" y2="763.2" stroke="#37598c" stroke-width="4.0" stroke-linecap="square"/>
<line x1="185.5" y1="763.2" x2="189.4" y2="763.8" stroke="#32638d" stroke-width="4.0" stroke-linecap="square"/>
<line x1="189.4" y1="763.8" x2="189.4" y2="759.4" stroke="#2c708e" stroke-width="4.0" stroke-linecap="square"/>
<line x1="189.4" y1="759.4" x2="190.2" y2="756.5" stroke="#277d8e" stroke-width="4.0" stroke-linecap="square"/>
<line x1="190.2" y1="756.5" x2="192.6" y2="759.4" stroke="#22898d" stroke-width="4.0" stroke-linecap="square"/>
<line x1="192.6" y1="759.4" x2="189.8" y2="755.0" stroke="#1f968b" stroke-width="4.0" stroke-linecap="square"/>
<line x1="189.8" y1="755.0" x2="187.4" y2="751.3" stroke="#1fa286" stroke-width="4.0" stroke-linecap="square"/>
<line x1="187.4" y1="751.3" x2="188.2" y2="749.6" stroke="#25ab81" stroke-width="4.0" stroke-linecap="square"/>
<line x1="188.2" y1="749.6" x2="193.0" y2="751.8" stroke="#2eb27c" stroke-width="4.0" stroke-linecap="square"/>
<line x1="193.0" y1="751.8" x2="198.3" y2="754.1" stroke="#36b877" stroke-width="4.0" stroke-linecap="square"/>
<line x1="198.3" y1="754.1" x2="204.0" y2="755.7" stroke="#3ebc73" stroke-width="4.0" stroke-linecap="square"/>
<line x1="204.0" y1="755.7" x2="211.9" y2="756.7" stroke="#47c06e" stroke-width="4.0" stroke-linecap="square"/>
<line x1="211.9" y1="756.7" x2="218.7" y2="756.2" stroke="#51c468" stroke-width="4.0" stroke-linecap="square"/>
<line x1="218.7" y1="756.2" x2="222.3" y2="755.1" stroke="#5ec961" stroke-width="4.0" stroke-linecap="square"/>
<line x1="222.3" y1="755.1" x2="225.0" y2="756.4" stroke="#69cc5b" stroke-width="4.0" stroke-linecap="square"/>
<line x1="225.0" y1="756.4" x2="225.9" y2="759.2" stroke="#74d054" stroke-width="4.0" stroke-linecap="square"/>
<line x1="225.9" y1="759.2" x2="223.7" y2="762.8" stroke="#83d34b" stroke-width="4.0" stroke-linecap="square"/>
<line x1="223.7" y1="762.8" x2="218.7" y2="764.6" stroke="#97d83e" stroke-width="4.0" stroke-linecap="square"/>
<line x1="218.7" y1="764.6" x2="211.9" y2="766.0" stroke="#afdc2e" stroke-width="4.0" stroke-linecap="square"/>
<line x1="211.9" y1="766.0" x2="206.5" y2="767.1" stroke="#cae01e" stroke-width="4.0" stroke-linecap="square"/>
<line x1="206.5" y1="767.1" x2="204.8" y2="767.0" stroke="#dfe318" stroke-width="4.0" stroke-linecap="square"/>
</g>
<rect x="91.5" y="704.5" width="154.00" height="154.00" fill="none" stroke="#000" stroke-width="1.11"/>
</svg></body></html>
